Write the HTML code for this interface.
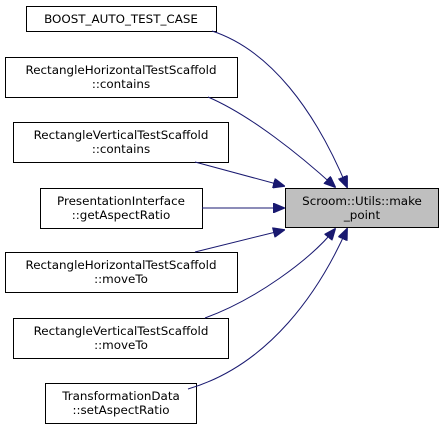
<!DOCTYPE html>
<html><head><style>body{margin:0;background:#fff}</style></head><body>
<svg width="444" height="430" xmlns="http://www.w3.org/2000/svg" font-family="DejaVu Sans, sans-serif" font-size="11.9">
<defs><marker id="a" markerWidth="12" markerHeight="10" refX="11" refY="5" orient="auto" markerUnits="userSpaceOnUse"><path d="M0,0 L12,5 L0,10 z" fill="#191970" stroke="#191970"/></marker></defs>
<g fill="#fff" stroke="#000" stroke-width="1">
<rect x="26.5" y="6.5" width="190" height="25"/>
<rect x="5.5" y="57.5" width="232" height="40"/>
<rect x="13.5" y="122.5" width="215" height="40"/>
<rect x="40.5" y="188.5" width="162" height="40"/>
<rect x="5.5" y="252.5" width="232" height="40"/>
<rect x="13.5" y="318.5" width="215" height="40"/>
<rect x="45.5" y="383.5" width="151" height="40"/>
<rect x="285.5" y="188.5" width="153" height="39" fill="#bfbfbf"/>
</g>
<g fill="none" stroke="#191970" stroke-width="1" marker-end="url(#a)">
<path d="M212,31 C270,50 315,110 347,187"/>
<path d="M208,97 C250,115 300,155 335,187"/>
<path d="M195,162 L284,186"/>
<path d="M202,208 L284,208"/>
<path d="M195,252 L284,230"/>
<path d="M205,318 C255,300 310,260 335,229"/>
<path d="M188,389 C270,365 320,290 347,229"/>
</g>
<g text-anchor="middle" fill="#000">
<text x="121" y="23">BOOST_AUTO_TEST_CASE</text>
<text x="121" y="74">RectangleHorizontalTestScaffold</text><text x="121" y="88">::contains</text>
<text x="121" y="139">RectangleVerticalTestScaffold</text><text x="121" y="153">::contains</text>
<text x="121" y="205">PresentationInterface</text><text x="121" y="219">::getAspectRatio</text>
<text x="121" y="269">RectangleHorizontalTestScaffold</text><text x="121" y="283">::moveTo</text>
<text x="121" y="335">RectangleVerticalTestScaffold</text><text x="121" y="349">::moveTo</text>
<text x="121" y="400">TransformationData</text><text x="121" y="414">::setAspectRatio</text>
<text x="362" y="205">Scroom::Utils::make</text><text x="362" y="219">_point</text>
</g>
</svg>
</body></html>
